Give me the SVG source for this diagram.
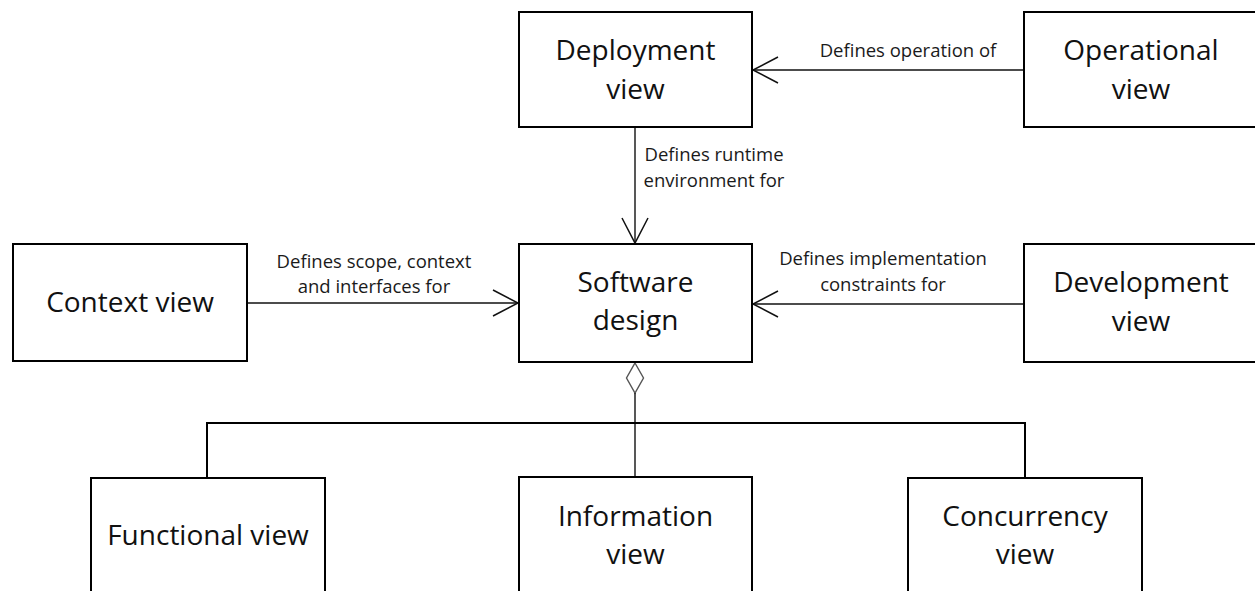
<svg xmlns="http://www.w3.org/2000/svg" width="1255" height="591" viewBox="0 0 1255 591">
  <style>
    .box { fill: #ffffff; stroke: #000000; stroke-width: 2; }
    .name { font-family: "Open Sans", "Liberation Sans", sans-serif; font-size: 28px; fill: #111111; text-anchor: middle; }
    .label { font-family: "Open Sans", "Liberation Sans", sans-serif; font-size: 18.5px; fill: #1a1a1a; text-anchor: middle; }
    .link { fill: none; stroke: #111111; stroke-width: 1.4; }
    .bus { fill: none; stroke: #000000; stroke-width: 2; }
  </style>
  <defs>
    <!-- open V-shaped arrowhead, tip at the line end -->
    <marker id="open-arrow" markerUnits="userSpaceOnUse" markerWidth="30" markerHeight="30"
            viewBox="-28 -15 30 30" refX="0" refY="0" orient="auto">
      <path d="M-25,-13 L0,0 L-25,13" fill="none" stroke="#111111" stroke-width="1.5"/>
    </marker>
  </defs>

  <rect width="1255" height="591" fill="#ffffff"/>

  <!-- connectors -->
  <g id="connectors">
    <line class="link" x1="1024" y1="70" x2="753" y2="70" marker-end="url(#open-arrow)"/>
    <text class="label" x="908" y="57">Defines operation of</text>

    <line class="link" x1="635" y1="128" x2="635" y2="243" marker-end="url(#open-arrow)"/>
    <text class="label" x="714" y="161">Defines runtime</text>
    <text class="label" x="714" y="187">environment for</text>

    <line class="link" x1="248" y1="303" x2="518" y2="303" marker-end="url(#open-arrow)"/>
    <text class="label" x="374" y="268">Defines scope, context</text>
    <text class="label" x="374" y="293">and interfaces for</text>

    <line class="link" x1="1024" y1="304" x2="753" y2="304" marker-end="url(#open-arrow)"/>
    <text class="label" x="883" y="265">Defines implementation</text>
    <text class="label" x="883" y="291">constraints for</text>

    <!-- aggregation into the software design -->
    <polygon points="635,363 643.5,378 635,393 626.5,378" fill="#ffffff" stroke="#555555" stroke-width="1.4"/>
    <line class="link" x1="635" y1="393" x2="635" y2="477"/>
    <polyline class="bus" points="207,478 207,423 1025,423 1025,478"/>
  </g>

  <g id="deployment-view">
    <rect class="box" x="519" y="12" width="233" height="115"/>
    <text class="name" x="635.5" y="60">Deployment</text>
    <text class="name" x="635.5" y="99">view</text>
  </g>

  <g id="operational-view">
    <rect class="box" x="1024" y="12" width="236" height="115"/>
    <text class="name" x="1141" y="60">Operational</text>
    <text class="name" x="1141" y="99">view</text>
  </g>

  <g id="software-design">
    <rect class="box" x="519" y="244" width="233" height="118"/>
    <text class="name" x="635.5" y="292">Software</text>
    <text class="name" x="635.5" y="330">design</text>
  </g>

  <g id="context-view">
    <rect class="box" x="13" y="244" width="234" height="117"/>
    <text class="name" x="130" y="312">Context view</text>
  </g>

  <g id="development-view">
    <rect class="box" x="1024" y="244" width="236" height="118"/>
    <text class="name" x="1141" y="292">Development</text>
    <text class="name" x="1141" y="331">view</text>
  </g>

  <g id="functional-view">
    <rect class="box" x="91" y="478" width="234" height="130"/>
    <text class="name" x="208" y="545">Functional view</text>
  </g>

  <g id="information-view">
    <rect class="box" x="519" y="477" width="233" height="131"/>
    <text class="name" x="635.5" y="526">Information</text>
    <text class="name" x="635.5" y="564">view</text>
  </g>

  <g id="concurrency-view">
    <rect class="box" x="908" y="478" width="234" height="130"/>
    <text class="name" x="1025" y="526">Concurrency</text>
    <text class="name" x="1025" y="564">view</text>
  </g>
</svg>
